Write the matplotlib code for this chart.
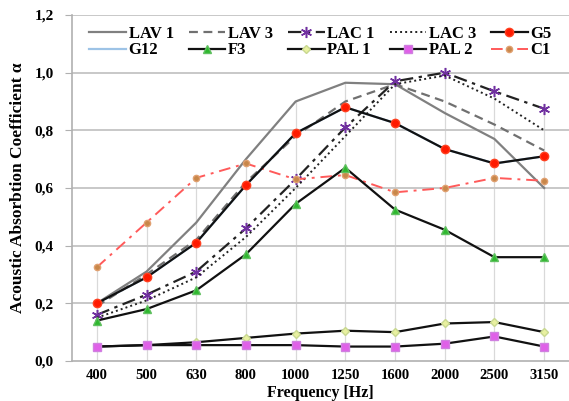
import numpy as np
import matplotlib
matplotlib.use('Agg')
import matplotlib.pyplot as plt

# data
freqs = ['400', '500', '630', '800', '1000', '1250', '1600', '2000', '2500', '3150']
lav1 = [0.20, 0.31, 0.48, 0.70, 0.90, 0.965, 0.96, 0.86, 0.77, 0.60]
lav3 = [0.19, 0.30, 0.42, 0.62, 0.78, 0.90, 0.96, 0.90, 0.82, 0.73]
lac1 = [0.16, 0.23, 0.31, 0.46, 0.63, 0.81, 0.97, 1.00, 0.935, 0.875]
lac3 = [0.15, 0.21, 0.29, 0.43, 0.60, 0.78, 0.96, 0.99, 0.91, 0.80]
g5 = [0.20, 0.29, 0.41, 0.61, 0.79, 0.88, 0.825, 0.735, 0.685, 0.71]
g12 = [0.20, 0.29, 0.41, 0.61, 0.79, 0.88, 0.825, 0.735, 0.685, 0.71]
f3 = [0.14, 0.18, 0.245, 0.37, 0.545, 0.67, 0.525, 0.455, 0.36, 0.36]
pal1 = [0.05, 0.055, 0.065, 0.08, 0.095, 0.105, 0.10, 0.13, 0.135, 0.10]
pal2 = [0.05, 0.055, 0.055, 0.055, 0.055, 0.05, 0.05, 0.06, 0.085, 0.05]
c1 = [0.325, 0.48, 0.635, 0.685, 0.63, 0.645, 0.585, 0.60, 0.635, 0.625]
yticks = [0.0, 0.2, 0.4, 0.6, 0.8, 1.0, 1.2]

plt.rcParams['font.family'] = ['Liberation Serif', 'DejaVu Serif']
plt.rcParams['font.weight'] = 'bold'

fig = plt.figure(figsize=(5.69, 4.01), dpi=100)
ax = fig.add_axes([0.1265, 0.0998, 0.8735, 0.8628])
x = np.arange(len(freqs))

# drop lines from the highest point of each category
allv = np.array([lav1, lav3, lac1, lac3, g5, g12, f3, pal1, pal2, c1])
ax.vlines(x, 0, allv.max(axis=0), color='#d9d9d9', lw=0.9, zorder=1)

for yv in yticks[1:]:
    ax.axhline(yv, color='#c8c8c8', lw=1.4, zorder=1)

lw = 1.6
ax.plot(x, g12, color='#9dc3e6', lw=lw, label='G12', zorder=2)
ax.plot(x, lav1, color='#808080', lw=lw, label='LAV 1', zorder=3)
ax.plot(x, lav3, color='#707070', lw=lw, ls=(0, (4, 2.5)), label='LAV 3', zorder=3)
ax.plot(x, lac1, color='#222222', lw=lw, ls=(0, (6, 2.5, 1.5, 2.5)), marker=(6, 2, 0),
        ms=8, mec='#7030a0', mew=1.1, label='LAC 1', zorder=4)
ax.plot(x, lac3, color='#222222', lw=1.4, ls=(0, (1, 1.6)), label='LAC 3', zorder=4)
ax.plot(x, c1, color='#ff5a5a', lw=1.4, ls=(0, (6, 3, 1.5, 3)), marker='o', ms=4.5,
        mfc='#c8874a', mec='#e0a070', label='C1', zorder=4)
ax.plot(x, g5, color='#111111', lw=lw, marker='o', ms=6, mfc='#ff1a00', mec='#ff4020',
        label='G5', zorder=5)
ax.plot(x, f3, color='#111111', lw=lw, marker='^', ms=5.5, mfc='#2eb82e', mec='#60c060',
        label='F3', zorder=5)
ax.plot(x, pal1, color='#111111', lw=lw, marker='D', ms=4, mfc='#e8f0a0', mec='#c8d890',
        label='PAL 1', zorder=5)
ax.plot(x, pal2, color='#111111', lw=lw, marker='s', ms=5.5, mfc='#e060e8', mec='#d080e0',
        label='PAL 2', zorder=5)

ax.set_xlim(-0.5, 9.5)
ax.set_ylim(0, 1.2)
ax.set_xticks(x)
ax.set_xticklabels(freqs, fontsize=10.5, fontweight='bold')
ax.set_yticks(yticks)
ax.set_yticklabels([('%.1f' % v).replace('.', ',') for v in yticks],
                   fontsize=11, fontweight='bold')
ax.tick_params(axis='x', length=0, pad=6)
ax.tick_params(axis='y', length=5, color='#b0b0b0', pad=8)
ax.spines['top'].set_visible(False)
ax.spines['right'].set_visible(False)
ax.spines['left'].set_color('#b0b0b0')
ax.spines['bottom'].set_color('#b0b0b0')
ax.spines['left'].set_linewidth(1.2)
ax.spines['bottom'].set_linewidth(1.2)

ax.set_xlabel('Frequency [Hz]', fontsize=11.5, fontweight='bold')
ax.xaxis.set_label_coords(0.5, -0.07)
ax.set_ylabel('Acoustic Absorbtion Coefficient α', fontsize=12.5, fontweight='bold',
              labelpad=6)

h, l = ax.get_legend_handles_labels()
order = ['LAV 1', 'G12', 'LAV 3', 'F3', 'LAC 1', 'PAL 1', 'LAC 3', 'PAL 2', 'G5', 'C1']
hd = dict(zip(l, h))
ax.legend([hd[k] for k in order], order, ncol=5, loc='upper center',
          bbox_to_anchor=(0.5, 1.008), frameon=False, fontsize=12, handlelength=2.2,
          handletextpad=0.15, columnspacing=0.9, labelspacing=0.05, borderpad=0.3)

fig.savefig('out.png', dpi=100)
